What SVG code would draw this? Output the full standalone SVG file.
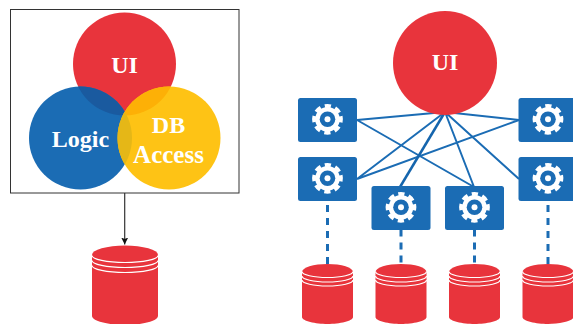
<svg xmlns="http://www.w3.org/2000/svg" xmlns:xlink="http://www.w3.org/1999/xlink" width="573" height="324" viewBox="0 0 573 324">
<style>
.lbl{font-family:"Liberation Serif","DejaVu Serif",serif;font-weight:bold;font-size:24px;fill:#fff;text-anchor:middle}
.red{fill:#e8343c}.blue{fill:#1b6cb4}.yel{fill:#fec315}
.net{stroke:#1b6cb4;stroke-width:2;fill:none}
.dash{stroke:#1b6cb4;stroke-width:3;fill:none;stroke-dasharray:7 6}
.rim{fill:none;stroke:#fff;stroke-width:1.200}
</style>
<defs>
<clipPath id="cr"><circle cx="124.500" cy="64" r="51.500"/></clipPath>
<clipPath id="cb2"><circle cx="169" cy="138" r="51.500"/></clipPath>
<marker id="ah" markerWidth="8" markerHeight="8" refX="7" refY="3.500" orient="auto" markerUnits="userSpaceOnUse"><path d="M0 0L7 3.500L0 7L1.500 3.500Z" fill="#111"/></marker>
<g id="gear">
<rect x="-29.500" y="-21.300" width="59" height="44" rx="2.500" class="blue"/>
<circle r="12.300" fill="#fff"/>
<circle r="13.500" fill="none" stroke="#fff" stroke-width="3.800" stroke-dasharray="6.100 4.500" transform="rotate(-13)"/>
<circle r="7.800" class="blue"/>
<circle r="3" fill="#fff"/>
</g>
<g id="dbS">
<path d="M-25.500 8A25.500 8 0 0 1 25.500 8V53C25.500 57 12 60 0 60S-25.500 57 -25.500 53Z" class="red"/>
<path class="rim" d="M-25.500 7.500A25.500 6 0 0 0 25.500 7.500"/>
<path class="rim" d="M-25.500 12A25.500 6 0 0 0 25.500 12"/>
<path class="rim" d="M-25.500 16A25.500 6 0 0 0 25.500 16"/>
</g>
</defs>
<g id="connectors">
<path d="M124.700 193V244.500" fill="none" stroke="#333" stroke-width="1.200" marker-end="url(#ah)"/>
<path class="net" d="M445 112L357 120M445 112L357 179M445 112L474 187M445 112L519 120M445 112L519 179M357 120L474 187M357 179L519 120"/>
<path class="net" d="M445 112L400 187" style="stroke:#1565ad;stroke-width:2.500"/>
<path class="dash" d="M327.500 205V264M548 205V264"/>
<path class="dash" d="M401 229.500V264M474.500 229.500V264"/>
</g>
<g id="monolith-box"><rect x="10.500" y="9.500" width="228.500" height="183.500" fill="#fff" stroke="#333" stroke-width="1"/></g>
<g id="circle-ui"><circle cx="124.500" cy="64" r="51.500" class="red"/></g>
<g id="circle-logic"><circle cx="80.500" cy="138" r="51.500" class="blue"/>
<circle cx="80.500" cy="138" r="51.500" fill="#1a5a9f" clip-path="url(#cr)"/></g>
<g id="circle-db"><circle cx="169" cy="138" r="51.500" class="yel"/>
<circle cx="169" cy="138" r="51.500" fill="#fdb006" clip-path="url(#cr)"/>
<circle cx="80.500" cy="138" r="51.500" fill="#e5b717" clip-path="url(#cb2)"/></g>
<text class="lbl" x="124.500" y="72.500">UI</text>
<text class="lbl" x="80.500" y="146.500">Logic</text>
<text class="lbl" x="168.500" y="133">DB</text>
<text class="lbl" x="168.500" y="162.500" style="font-size:25px">Access</text>
<g id="db-main"><path d="M92 255A33 9.500 0 0 1 158 255V316C158 321 142 325 125 325S92 321 92 316Z" class="red"/>
<path class="rim" d="M92 255.500A33 7 0 0 0 158 255.500"/>
<path class="rim" d="M92 260.500A33 7 0 0 0 158 260.500"/>
<path class="rim" d="M92 265.500A33 7 0 0 0 158 265.500"/></g>
<g id="ui-right"><circle cx="445" cy="63" r="52" class="red"/><text class="lbl" x="445" y="70">UI</text></g>
<g id="svc1"><use xlink:href="#gear" x="327.500" y="119.300"/></g>
<g id="svc2"><use xlink:href="#gear" x="327.500" y="178.300"/></g>
<g id="svc3"><use xlink:href="#gear" x="401" y="207.300"/></g>
<g id="svc4"><use xlink:href="#gear" x="474.500" y="207.300"/></g>
<g id="svc5"><use xlink:href="#gear" x="548" y="119.300"/></g>
<g id="svc6"><use xlink:href="#gear" x="548" y="178.300"/></g>
<g id="db1"><use xlink:href="#dbS" x="327.500" y="264"/></g>
<g id="db2"><use xlink:href="#dbS" x="401" y="264"/></g>
<g id="db3"><use xlink:href="#dbS" x="474.500" y="264"/></g>
<g id="db4"><use xlink:href="#dbS" x="548" y="264"/></g>
</svg>
